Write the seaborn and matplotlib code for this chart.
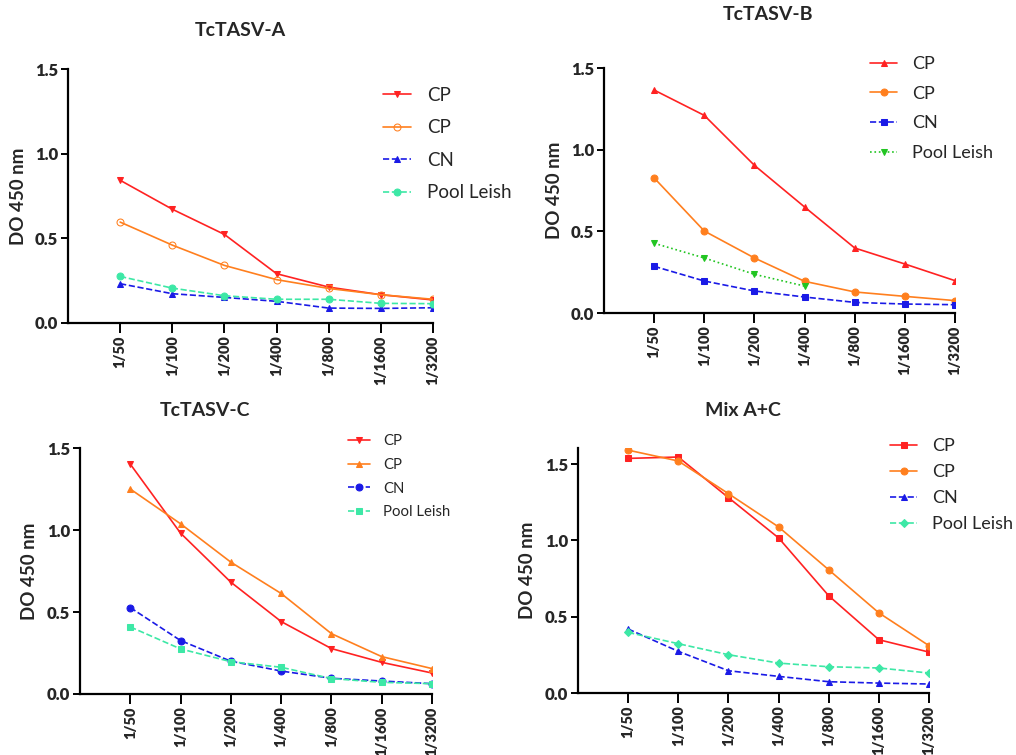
import numpy as np
import pandas as pd
import seaborn as sns
import matplotlib.pyplot as plt

# Dilutions shared by every panel
dilutions = ["1/50", "1/100", "1/200", "1/400", "1/800", "1/1600", "1/3200"]

# TcTASV-A
a_cp1 = [0.843, 0.672, 0.523, 0.291, 0.212, 0.167, 0.136]
a_cp2 = [0.596, 0.460, 0.340, 0.256, 0.204, 0.167, 0.140]
a_cn = [0.232, 0.173, 0.151, 0.128, 0.088, 0.086, 0.090]
a_pool = [0.275, 0.206, 0.161, 0.140, 0.140, 0.116, 0.114]

# TcTASV-B (Pool Leish only measured to 1/400)
b_cp1 = [1.365, 1.210, 0.904, 0.649, 0.398, 0.300, 0.198]
b_cp2 = [0.827, 0.502, 0.337, 0.194, 0.129, 0.102, 0.076]
b_cn = [0.286, 0.196, 0.135, 0.098, 0.065, 0.055, 0.051]
b_pool = [0.427, 0.337, 0.237, 0.165, np.nan, np.nan, np.nan]

# TcTASV-C
c_cp1 = [1.402, 0.981, 0.682, 0.442, 0.277, 0.193, 0.128]
c_cp2 = [1.250, 1.038, 0.804, 0.613, 0.368, 0.228, 0.155]
c_cn = [0.527, 0.326, 0.200, 0.140, 0.096, 0.079, 0.063]
c_pool = [0.409, 0.275, 0.197, 0.163, 0.094, 0.071, 0.063]

# Mix A+C
d_cp1 = [1.537, 1.546, 1.280, 1.016, 0.637, 0.349, 0.268]
d_cp2 = [1.591, 1.520, 1.306, 1.088, 0.807, 0.525, 0.310]
d_cn = [0.419, 0.273, 0.146, 0.109, 0.074, 0.065, 0.059]
d_pool = [0.397, 0.323, 0.251, 0.196, 0.172, 0.164, 0.131]

labels = ["CP", "CP", "CN", "Pool Leish"]

RED = "#ff2222"
ORANGE = "#ff7f1e"
BLUE = "#1a1ae6"
AQUA = "#3de8a6"
GREEN = "#22c522"

sns.set_style("ticks")
plt.rcParams['font.family'] = ['Lato', 'DejaVu Sans']

fig = plt.figure(figsize=(10.16, 7.55), dpi=100)

panels = [
    dict(title="TcTASV-A", rect=[0.0669, 0.5722, 0.3593, 0.3364], ylim=1.5,
         tpos=(240, 30), leg=(383, 87), lfs=13.5, lsp=0.82, ylx=-0.112,
         series=[(a_cp1, RED, "v", "-", RED), (a_cp2, ORANGE, "o", "-", "none"),
                 (a_cn, BLUE, "^", "--", BLUE), (a_pool, AQUA, "o", "--", AQUA)]),
    dict(title="TcTASV-B", rect=[0.5945, 0.5854, 0.3455, 0.3245], ylim=1.5,
         tpos=(768, 15), leg=(870, 56), lfs=13, lsp=0.76, ylx=-0.117,
         series=[(b_cp1, RED, "^", "-", RED), (b_cp2, ORANGE, "o", "-", ORANGE),
                 (b_cn, BLUE, "s", "--", BLUE), (b_pool, GREEN, "v", ":", GREEN)]),
    dict(title="TcTASV-C", rect=[0.0787, 0.0808, 0.3465, 0.3258], ylim=1.5,
         tpos=(205, 410), leg=(348, 434), lfs=10.7, lsp=0.66, ylx=-0.12,
         series=[(c_cp1, RED, "v", "-", RED), (c_cp2, ORANGE, "^", "-", ORANGE),
                 (c_cn, BLUE, "o", "--", BLUE), (c_pool, AQUA, "s", "--", AQUA)]),
    dict(title="Mix A+C", rect=[0.5689, 0.0821, 0.3455, 0.3245], ylim=1.605,
         tpos=(743, 410), leg=(890, 438), lfs=13, lsp=0.56, ylx=-0.12,
         series=[(d_cp1, RED, "s", "-", RED), (d_cp2, ORANGE, "o", "-", ORANGE),
                 (d_cn, BLUE, "^", "--", BLUE), (d_pool, AQUA, "D", "--", AQUA)]),
]

W, H = 1016, 755
for p in panels:
    ax = fig.add_axes(p["rect"])
    for (vals, col, mk, ls, fc), lab in zip(p["series"], labels):
        df = pd.DataFrame({"dil": dilutions, "od": vals}).dropna()
        sns.lineplot(data=df, x="dil", y="od", ax=ax, color=col, marker=mk,
                     linestyle=ls, markerfacecolor=fc, markeredgecolor=col,
                     markersize=5 if mk != "D" else 4.5, linewidth=1.2,
                     label=lab, sort=False)
    ax.set_xlim(-1, 6)
    ax.set_ylim(0, p["ylim"])
    ax.set_yticks([0, 0.5, 1.0, 1.5])
    ax.set_yticklabels(["0.0", "0.5", "1.0", "1.5"], fontweight="heavy", fontsize=12)
    ax.set_xticks(range(len(dilutions)))
    ax.set_xticklabels(dilutions, rotation=90, fontweight="heavy", fontsize=10.5)
    ax.set_xlabel("")
    ax.set_ylabel("DO 450 nm", fontweight="bold", fontsize=13.5)
    ax.yaxis.set_label_coords(p["ylx"], 0.5)
    for s in ["top", "right"]:
        ax.spines[s].set_visible(False)
    for s in ["left", "bottom"]:
        ax.spines[s].set_color("black")
        ax.spines[s].set_linewidth(1.6)
    ax.tick_params(axis="y", length=5, width=1.4, color="black", pad=2)
    ax.tick_params(axis="x", length=7, width=1.4, color="black", pad=2)
    ax.set_facecolor("white")
    ax.legend(loc="upper left", bbox_to_anchor=(p["leg"][0] / W, 1 - p["leg"][1] / H),
              bbox_transform=fig.transFigure, frameon=False, fontsize=p["lfs"],
              labelspacing=p["lsp"], handlelength=1.5, handletextpad=0.85,
              borderpad=0, borderaxespad=0)
    fig.text(p["tpos"][0] / W, 1 - p["tpos"][1] / H, p["title"], ha="center",
             va="center", fontweight="bold", fontsize=14)

fig.savefig("out.png", dpi=100)
